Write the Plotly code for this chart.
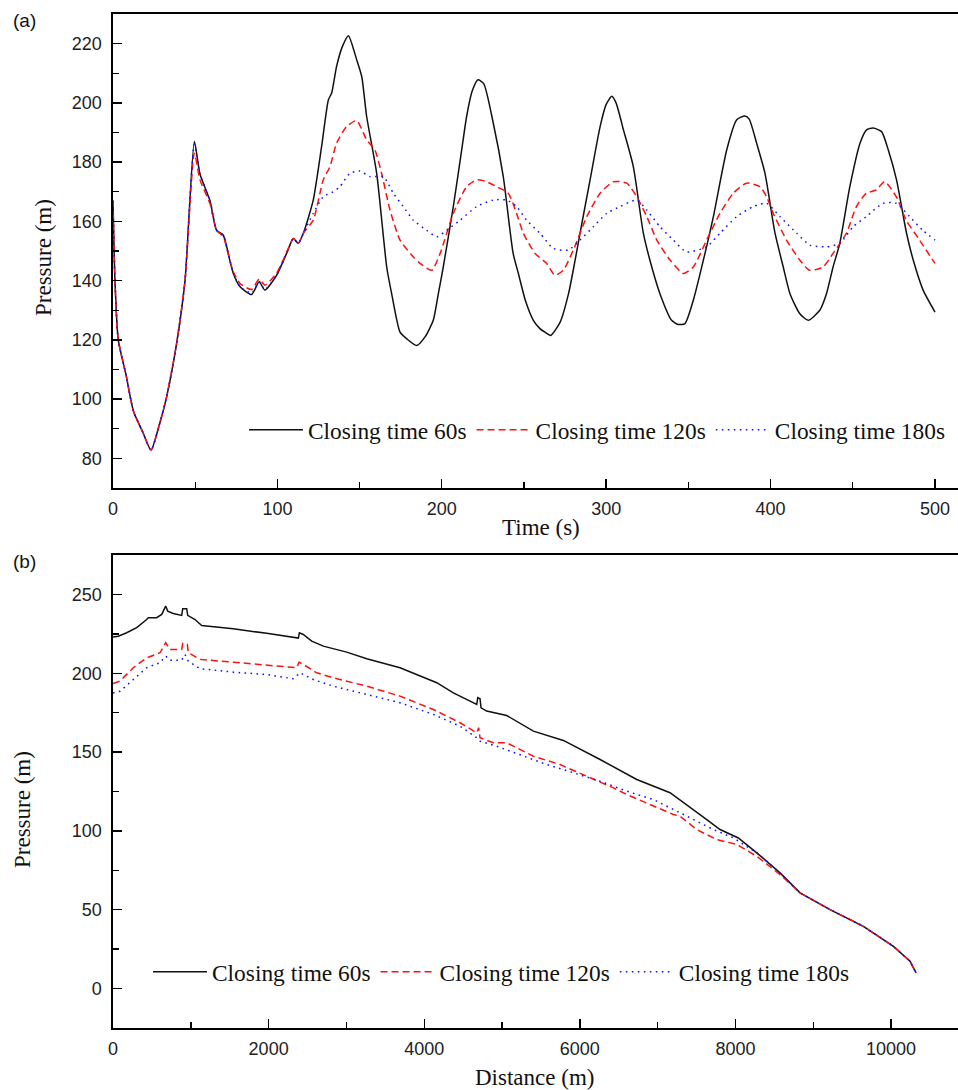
import plotly.graph_objects as go

# ---------------- Panel (a): pressure vs time ----------------
t60 = [0, 1.2, 3.2, 8, 12.4, 18, 23.1, 28, 32.6, 38.7, 43.8, 49.5, 52.9, 59, 63, 67, 71, 73.2, 77.3,
       84.3, 88.9, 92.4, 99.5, 105.6, 109.7, 112.7, 115.8, 121.8, 126.9, 131, 133, 136, 139.5, 143.2,
       148.2, 151.3, 154.3, 160.4, 166.5, 169.5, 174.6, 178.6, 184.7, 189.8, 194.8, 197.9, 200.9, 207,
       212.1, 215.1, 218.5, 222, 225.5, 231.3, 237.4, 243.4, 246.6, 251, 255.7, 259.7, 263, 266.2, 272,
       277.1, 281.1, 284.1, 290.2, 296.3, 300, 303.4, 306, 310.5, 316.5, 322.6, 326.6, 332.7, 339.8,
       343.8, 347.9, 353, 359.1, 365.2, 373.3, 379.4, 384.4, 387, 391.5, 396.6, 402.7, 407.7, 411.8,
       417.8, 422.9, 429.9, 434, 438, 442.1, 448.2, 454.4, 458.4, 462.4, 467.5, 471.6, 476.6, 482.7,
       486.8, 492.8, 500]
p60 = [167, 140, 120, 108, 96, 89, 82.8, 91, 100.7, 118.8, 140, 187, 176, 167, 157, 155.4, 147, 142.4,
       137.9, 135.3, 139.6, 136.8, 141.8, 149.2, 154.2, 152.6, 156, 167.2, 185.3, 201, 203.3, 212.3,
       219, 222.7, 214.6, 208.9, 195.4, 176.2, 144.6, 135.6, 122.6, 120.4, 118.1, 121, 126.6, 135.6,
       144.6, 165, 184.1, 195.4, 204, 207.8, 206.5, 193.2, 175.1, 149.2, 142.4, 133, 126.6, 123.8, 122.5,
       121.5, 126, 135.6, 146.9, 156, 174, 192, 199.5, 202.2, 200, 190.9, 178.5, 156, 146.9, 135.6,
       126.6, 125.2, 125.5, 133.4, 146.9, 161.6, 184.1, 194.3, 195.6, 194.5, 186.4, 176.2, 156, 144.6,
       135.6, 128.8, 126.6, 130, 135.6, 144.6, 152.6, 171.7, 186.4, 190.9, 191.5, 190.3, 184.1, 174,
       156, 146.9, 136.8, 129.4]

t120 = [0, 1.2, 3.2, 8, 12.4, 18, 23.1, 28, 32.6, 38.7, 43.8, 49.5, 52.9, 59, 63, 67, 71, 73.2, 77.3,
        84.3, 88.9, 92.4, 99.5, 105.6, 109.7, 112.7, 115.8, 121.8, 127.9, 132, 136, 142.1, 148.2, 154.3,
        159.3, 163.4, 168.5, 174.6, 182.7, 186.8, 193.9, 199, 207, 215.1, 221.2, 227.2, 233.3, 240.4,
        245.5, 249.6, 256.7, 263.8, 268.9, 273.9, 280, 288.2, 296.3, 304.4, 312.5, 318.6, 324.7, 330.8,
        338.9, 347, 353, 361.1, 369.2, 377.3, 385.4, 393.5, 397.6, 401.6, 409.7, 417.8, 423.8, 431.9,
        438, 446.1, 452.2, 458.2, 464.3, 469.3, 476.5, 482.5, 490.6, 500]
p120 = [167, 140, 120, 108, 96, 89, 82.8, 91, 100.7, 118.8, 140, 183, 174, 166, 157, 155, 147, 143,
        139, 137, 140.5, 138.5, 142.5, 149.5, 154.2, 152.6, 156, 160.4, 174, 178.5, 186.4, 192, 194,
        187.5, 184.1, 176.2, 163.8, 153.7, 148, 145.8, 143.5, 149.2, 162.7, 171.7, 174, 173.4, 171.7,
        169.5, 162.7, 156, 149.2, 145.8, 141.8, 143.5, 150.3, 161.6, 169.5, 173.4, 172.9, 168.3, 161.6,
        153.7, 146.9, 142.4, 144.6, 153.7, 162.7, 169.5, 172.9, 171.7, 168.3, 162.7, 153.7, 146.9,
        143.5, 144.6, 149.2, 156, 165, 169.5, 170.6, 173.4, 168.3, 160.4, 153.7, 145.8]

t180 = [0, 1.2, 3.2, 8, 12.4, 18, 23.1, 28, 32.6, 38.7, 43.8, 49.5, 52.9, 59, 63, 67, 71, 73.2, 77.3,
        84.3, 88.9, 92.4, 99.5, 105.6, 109.7, 112.7, 115.8, 121.8, 127.9, 134, 138, 144.1, 150.2, 156.3,
        164.4, 170.5, 176.6, 182.7, 190.8, 196.9, 203, 211.1, 221.2, 231.3, 239.4, 245.5, 251.6, 259.7,
        267.8, 276.9, 284.1, 292.2, 300.3, 308.4, 318.6, 324.7, 332.7, 340.8, 348.9, 361.1, 369.2,
        379.4, 389.5, 397.6, 405.7, 415.9, 423.9, 434, 442.1, 450.2, 458.2, 468.4, 476.5, 484.6,
        492.6, 500]
p180 = [167, 140, 120, 108, 96, 89, 82.8, 91, 100.7, 118.8, 140, 186, 176, 167, 157, 155.4, 147, 142.4,
        137.9, 135.8, 139.6, 137, 141.8, 149.2, 154.2, 152.6, 156, 162.7, 168.3, 170, 171.7, 176.2,
        177, 175.1, 175.1, 169.5, 165, 160.4, 157, 154.8, 157, 160.4, 165, 167.2, 167.2, 165, 160.4,
        156, 150.9, 150.3, 153.7, 158.2, 162.7, 165, 167.2, 163.8, 158.2, 153.7, 149.7, 151.4, 156,
        161.6, 165, 166.1, 161.6, 156, 152, 151.4, 152.6, 158.2, 161.6, 166.1, 166.1, 161.6, 157, 153.7]

# ---------------- Panel (b): pressure vs distance ----------------
d60 = [0, 68, 176, 305, 433, 454, 561, 626, 677, 703, 775, 883, 896, 947, 960, 1054, 1140, 1546, 1975,
       2382, 2395, 2446, 2554, 2703, 3004, 3261, 3689, 4161, 4374, 4675, 4688, 4717, 4730, 4803, 5060,
       5403, 5788, 6260, 6731, 7159, 7631, 7802, 8037, 8274, 8573, 8830, 9216, 9644, 10030, 10244,
       10321]
q60 = [223, 223.5, 225.7, 228.9, 234.1, 235.2, 235.2, 237.3, 242.6, 239.4, 237.9, 236.7, 240.9, 240.9,
       236.7, 234.1, 230.3, 228.2, 225.3, 222.3, 225.7, 224.6, 220.4, 217.2, 213.4, 209.2, 203.5, 194,
       187.6, 180.2, 184.5, 183.8, 178.1, 176, 173.2, 163.3, 157.4, 145.3, 132.6, 124.2, 107.2, 100.9,
       95.5, 86.1, 73.4, 60.7, 50.1, 39.5, 26.8, 17.3, 10]

d120 = [0, 90, 261, 433, 604, 677, 733, 883, 896, 955, 968, 1118, 1546, 1975, 2361, 2391, 2446, 2618,
        2832, 3261, 3689, 4117, 4460, 4675, 4700, 4717, 4888, 5060, 5403, 5745, 6089, 6431, 6603, 6860,
        7202, 7288, 7502, 7760, 8017, 8274, 8573, 8830, 9216, 9644, 10030, 10244, 10321]
q120 = [193.5, 195, 203.5, 209.8, 213, 219.4, 215.1, 215.1, 218.9, 218.3, 213, 208.8, 207, 205.1, 203.5,
        207, 205.6, 200.3, 197.1, 191.8, 185.5, 177, 168.6, 162.2, 165.5, 159.1, 155.9, 155.9, 147.4,
        142.1, 134.7, 127.3, 123.1, 117.8, 110.4, 109.3, 100.9, 94.5, 91.4, 83.9, 72.3, 60.7, 50.1,
        39.5, 26.8, 17.3, 10]

d180 = [0, 90, 261, 433, 604, 677, 733, 883, 925, 968, 1118, 1546, 1975, 2318, 2404, 2575, 2832, 3261,
        3689, 4117, 4460, 4675, 4717, 4932, 5231, 5574, 5917, 6260, 6603, 6945, 7288, 7459, 7716, 7973,
        8274, 8573, 8830, 9216, 9644, 10030, 10244, 10321]
q180 = [187.5, 188.6, 196, 203.5, 206.7, 210.9, 208.3, 208.3, 211.9, 207.7, 202.9, 200.7, 199.2, 196.5,
        200.3, 196, 191.8, 186.5, 181.3, 173.9, 166.4, 159.1, 156.9, 153.7, 148.5, 142.1, 136.9, 131.5,
        125.2, 119.9, 111.5, 107.2, 100.9, 95.6, 86.1, 73.4, 60.7, 50.1, 39.5, 26.8, 17.3, 10]

names = ["Closing time 60s", "Closing time 120s", "Closing time 180s"]
colors = ["#111111", "#FF1010", "#1010FF"]
dashes = ["solid", "7px,4px", "1.6px,4.4px"]

SERIF = "Liberation Serif, Times New Roman, serif"
SANS = "Liberation Sans, Arial, sans-serif"

fig = go.Figure()
for xs, ys, nm, c, dsh in zip([t60, t120, t180], [p60, p120, p180], names, colors, dashes):
    fig.add_trace(go.Scatter(x=xs, y=ys, mode="lines", name=nm, xaxis="x", yaxis="y",
                             legend="legend",
                             line=dict(color=c, width=1.5, dash=dsh, shape="spline", smoothing=0.6)))
for xs, ys, nm, c, dsh in zip([d60, d120, d180], [q60, q120, q180], names, colors, dashes):
    fig.add_trace(go.Scatter(x=xs, y=ys, mode="lines", name=nm, xaxis="x2", yaxis="y2",
                             legend="legend2",
                             line=dict(color=c, width=1.5, dash=dsh)))

W, H = 958, 1090
ML, MR, MT, MB = 113, 0, 14, 62
PW, PH = W - ML - MR, H - MT - MB


def px(xp):
    return (xp - ML) / PW


def py(yp):
    return (H - MB - yp) / PH


axis_common = dict(showline=True, linecolor="black", linewidth=1.6, ticks="inside",
                   ticklen=9, tickwidth=1.4, tickcolor="black", showgrid=False, zeroline=False,
                   tickfont=dict(family=SANS, size=18, color="#222222"))
minor_common = dict(ticks="inside", ticklen=6, tickwidth=1.4, tickcolor="black")

fig.update_layout(
    width=W, height=H,
    margin=dict(l=ML, r=MR, t=MT, b=MB),
    paper_bgcolor="white", plot_bgcolor="white",
    xaxis=dict(domain=[0, 1], anchor="y", range=[0, 514], dtick=100, tick0=0, mirror=True,
               minor=dict(dtick=50, **minor_common), ticklabelstandoff=4, **axis_common),
    yaxis=dict(domain=[py(488), 1], anchor="x", range=[70, 230], dtick=20, tick0=0,
               minor=dict(dtick=10, **minor_common), ticklabelstandoff=6, **axis_common),
    xaxis2=dict(domain=[0, 1], anchor="y2", range=[0, 10860], dtick=2000, tick0=0, mirror=True,
                tickformat="d",
                minor=dict(dtick=1000, **minor_common), ticklabelstandoff=4, **axis_common),
    yaxis2=dict(domain=[0, py(555)], anchor="x2", range=[-25, 275], dtick=50, tick0=0,
                minor=dict(dtick=25, **minor_common), ticklabelstandoff=6, **axis_common),
    legend=dict(orientation="h", x=px(244), xanchor="left", y=py(430), yanchor="middle",
                itemwidth=54, bgcolor="rgba(0,0,0,0)", borderwidth=0,
                font=dict(family=SERIF, size=23.4, color="#111111")),
    legend2=dict(orientation="h", x=px(148), xanchor="left", y=py(972), yanchor="middle",
                 itemwidth=54, bgcolor="rgba(0,0,0,0)", borderwidth=0,
                 font=dict(family=SERIF, size=23.4, color="#111111")),
    showlegend=True,
)

ann = [
    dict(text="(a)", x=px(24), y=py(20), font=dict(family=SANS, size=19, color="#111111")),
    dict(text="(b)", x=px(24), y=py(561), font=dict(family=SANS, size=19, color="#111111")),
    dict(text="Pressure (m)", x=px(43), y=py(258), textangle=-90,
         font=dict(family=SERIF, size=23, color="#111111")),
    dict(text="Pressure (m)", x=px(22), y=py(810), textangle=-90,
         font=dict(family=SERIF, size=23, color="#111111")),
    dict(text="Time (s)", x=px(541), y=py(527), font=dict(family=SERIF, size=23, color="#111111")),
    dict(text="Distance (m)", x=px(534), y=py(1077), font=dict(family=SERIF, size=23, color="#111111")),
]
for a in ann:
    fig.add_annotation(xref="paper", yref="paper", xanchor="center", yanchor="middle",
                       showarrow=False, **a)

fig.write_html(
    "out.html",
    config={"displayModeBar": False, "staticPlot": True},
    post_script="document.body.style.margin='0px';"
                "document.documentElement.style.overflow='hidden';"
                "document.body.style.overflow='hidden';",
)
